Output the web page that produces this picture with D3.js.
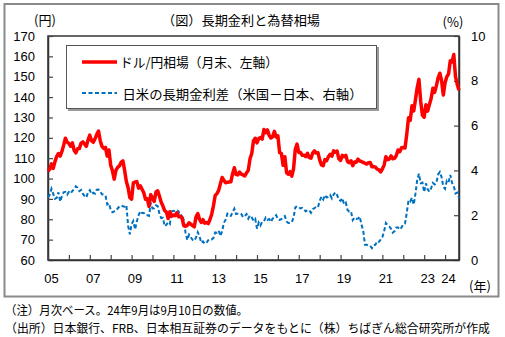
<!DOCTYPE html>
<html><head><meta charset="utf-8">
<script src="https://cdn.jsdelivr.net/npm/d3@7"></script>
<style>
body{margin:0;background:#fff;}
svg{display:block;}
.jp{font-family:"Noto Sans CJK JP","Noto Sans",sans-serif;}
.num{font-family:"Liberation Sans",Arial,sans-serif;}
</style></head>
<body><svg id="c" width="505" height="337"></svg>
<script>
// Monthly, Jan 2005 - Sep 2024
const startYear = 2005;
const usdjpy = [
103.6,104.6,107.2,105.0,108.3,110.9,112.3,111.0,113.3,116.4,119.8,117.9,
117.2,115.9,117.5,113.9,112.6,114.6,114.7,117.4,118.0,117.0,115.8,119.0,
121.3,118.6,117.8,119.5,121.7,123.3,118.6,115.8,114.8,115.3,111.0,114.0,
106.5,103.8,99.7,104.0,105.5,106.2,108.0,108.7,104.0,98.5,95.5,90.6,
89.9,97.9,98.3,98.5,95.3,96.4,94.7,93.0,89.8,90.1,86.3,92.1,
90.3,88.8,93.4,94.0,91.3,88.4,86.5,84.2,83.5,80.4,83.7,81.5,
82.1,81.8,83.2,81.2,81.5,80.6,76.8,76.6,77.0,78.3,77.6,76.9,
76.3,81.2,82.8,80.0,78.4,79.8,78.1,78.4,77.9,79.9,82.5,86.6,
91.7,92.6,94.2,97.5,100.5,99.1,97.9,98.2,98.3,98.4,102.4,105.3,
102.0,101.8,103.2,102.2,101.8,101.3,102.8,104.1,109.7,112.3,118.6,119.8,
117.5,119.6,120.1,119.4,124.1,122.5,123.9,121.2,119.9,120.6,123.2,120.4,
121.0,112.7,112.4,106.5,110.7,102.9,102.1,103.4,101.2,104.8,114.4,116.9,
112.8,112.8,111.4,111.5,110.8,112.4,110.3,110.0,112.5,113.6,112.5,112.7,
109.2,106.7,106.3,109.3,108.8,110.7,111.9,111.0,113.6,112.9,113.5,109.7,
108.9,111.4,110.7,111.4,108.3,107.8,108.7,106.3,108.1,108.0,109.5,108.6,
108.4,107.9,107.5,107.1,107.8,107.9,105.8,105.9,105.6,104.6,104.3,103.3,
104.7,106.6,110.7,109.3,109.6,111.1,109.7,110.0,111.3,114.0,113.2,115.1,
115.2,115.0,121.7,129.8,128.6,135.7,133.2,138.7,144.7,148.7,138.0,131.1,
130.1,136.2,133.1,136.3,139.3,144.3,142.3,145.5,149.4,151.7,148.1,141.0,
147.0,150.0,151.3,157.8,157.3,160.9,150.0,146.2,143.4
];
const spread = [
2.79,2.91,3.18,2.95,2.73,2.78,3.02,2.61,2.85,3.02,3.04,2.92,
3.04,2.97,3.08,3.16,3.29,3.22,3.08,3.13,2.96,2.85,2.79,3.03,
3.12,2.94,3.00,2.96,3.14,3.15,3.05,2.93,2.92,2.88,2.48,2.53,
2.24,2.13,2.17,2.19,2.30,2.39,2.43,2.40,2.38,2.45,1.53,1.15,
1.60,1.74,1.36,1.72,1.99,2.18,2.10,2.10,2.01,2.00,1.97,2.55,
2.30,2.31,2.44,2.40,2.05,1.87,1.88,1.51,1.57,1.69,1.61,2.17,
2.20,2.17,2.22,2.17,1.92,2.03,1.76,1.21,0.89,1.13,1.02,0.90,
0.86,1.01,1.24,1.06,0.77,0.83,0.73,0.76,0.88,0.94,0.92,0.99,
1.23,1.22,1.31,1.07,1.30,1.66,1.80,2.06,1.96,1.97,2.13,2.29,
2.05,2.07,2.09,2.05,1.91,1.97,2.05,1.85,1.99,1.90,1.76,1.84,
1.40,1.67,1.54,1.71,1.73,1.89,1.79,1.83,1.70,1.85,1.90,2.00,
1.82,1.79,1.82,1.91,1.96,1.72,1.65,1.65,1.69,1.89,2.35,2.40,
2.36,2.30,2.33,2.26,2.17,2.23,2.22,2.11,2.27,2.31,2.37,2.35,
2.64,2.82,2.70,2.90,2.79,2.82,2.90,2.75,2.92,3.02,2.90,2.69,
2.64,2.76,2.49,2.56,2.23,2.16,2.17,1.78,1.89,1.83,1.85,1.94,
1.58,1.31,0.68,0.68,0.65,0.63,0.53,0.67,0.68,0.84,0.81,0.91,
1.02,1.28,1.65,1.55,1.50,1.39,1.22,1.29,1.45,1.45,1.36,1.45,
1.61,1.63,2.10,2.66,2.61,2.78,2.47,2.96,3.58,3.85,3.43,3.46,
3.03,3.42,3.16,3.05,3.21,3.44,3.37,3.44,3.82,3.93,3.70,3.27,
3.18,3.54,3.47,3.80,3.44,3.31,2.97,3.01,2.78
];
const xTickYears = d3.range(2005, 2025);
const xLabelYears = [2005,2007,2009,2011,2013,2015,2017,2019,2021,2023,2024];
const leftTicks = d3.range(60, 171, 10);
const rightTicks = [0,2,4,6,8,10];
const title = "（図）長期金利と為替相場";
const legendLabels = ["ドル/円相場（月末、左軸）", "日米の長期金利差（米国－日本、右軸）"];
const notes = ["（注）月次ベース。24年9月は9月10日の数値。",
               "（出所）日本銀行、FRB、日本相互証券のデータをもとに（株）ちばぎん総合研究所が作成"];

const svg = d3.select("#c");
const L = 48, R = 459, T = 36, B = 260;
const t = i => startYear + i/12;
const x = d3.scaleLinear().domain([startYear, startYear + (usdjpy.length-1)/12]).range([L, R]);
const yL = d3.scaleLinear().domain([60,170]).range([B, T]);
const yR = d3.scaleLinear().domain([0,10]).range([B, T]);

// outer frame
svg.append("rect").attr("x",4.5).attr("y",4).attr("width",494).attr("height",292.5)
  .attr("fill","none").attr("stroke","#8a8a8a").attr("stroke-width",2);

// plot border
svg.append("rect").attr("x",L).attr("y",T).attr("width",R-L).attr("height",B-T)
  .attr("fill","none").attr("stroke","#333").attr("stroke-width",1.5);

// left axis
const gL = svg.append("g").attr("transform",`translate(${L},0)`)
  .call(d3.axisLeft(yL).tickValues(leftTicks).tickSizeInner(-5).tickSizeOuter(0).tickPadding(13));
// right axis
const gR = svg.append("g").attr("transform",`translate(${R},0)`)
  .call(d3.axisRight(yR).tickValues(rightTicks).tickSizeInner(-5).tickSizeOuter(0).tickPadding(12));
// bottom axis
const gB = svg.append("g").attr("transform",`translate(0,${B})`)
  .call(d3.axisBottom(x).tickValues(xTickYears).tickSizeInner(-5).tickSizeOuter(0).tickFormat(""));
[gL,gR,gB].forEach(g=>{
  g.select(".domain").attr("stroke","#333").attr("stroke-width",1.5);
  g.selectAll(".tick line").attr("stroke","#444").attr("stroke-width",1.2);
  g.selectAll("text").attr("class","num").attr("font-size",13).attr("fill","#000");
});
gL.selectAll("text").attr("font-family","Liberation Sans, Arial, sans-serif");
gR.selectAll("text").attr("font-family","Liberation Sans, Arial, sans-serif");

// x labels
svg.append("g").selectAll("text").data(xLabelYears).join("text")
  .attr("class","num").attr("x",d=>x(d)+3.5).attr("y",283).attr("text-anchor","middle")
  .attr("font-size",13).attr("fill","#000")
  .text(d=>String(d%100).padStart(2,"0"));

// lines
const lineL = d3.line().x((d,i)=>x(t(i))).y(d=>yL(d));
const lineR = d3.line().x((d,i)=>x(t(i))).y(d=>yR(d));
svg.append("path").attr("d",lineR(spread)).attr("fill","none")
  .attr("stroke","#0070C0").attr("stroke-width",2).attr("stroke-dasharray","4,2.5");
svg.append("path").attr("d",lineL(usdjpy)).attr("fill","none")
  .attr("stroke","#FF0000").attr("stroke-width",3.5).attr("stroke-linejoin","round");

// legend
const lg = svg.append("g");
lg.append("rect").attr("x",68).attr("y",47).attr("width",311).attr("height",64).attr("fill","#9a9a9a");
lg.append("rect").attr("x",66.5).attr("y",45.5).attr("width",310).attr("height",63)
  .attr("fill","#fff").attr("stroke","#555").attr("stroke-width",1);
lg.append("line").attr("x1",82).attr("x2",117).attr("y1",62).attr("y2",62)
  .attr("stroke","#FF0000").attr("stroke-width",3.5);
lg.append("line").attr("x1",82).attr("x2",117).attr("y1",93).attr("y2",93)
  .attr("stroke","#0070C0").attr("stroke-width",2).attr("stroke-dasharray","4,2.5");
lg.append("text").attr("class","jp").attr("x",120).attr("y",67).attr("font-size",13)
  .attr("textLength",158).attr("lengthAdjust","spacingAndGlyphs").text(legendLabels[0]);
lg.append("text").attr("class","jp").attr("x",122.5).attr("y",98.5).attr("font-size",13)
  .attr("textLength",240).attr("lengthAdjust","spacingAndGlyphs").text(legendLabels[1]);

// titles
svg.append("text").attr("class","jp").attr("x",241).attr("y",25).attr("text-anchor","middle")
  .attr("font-size",13).attr("textLength",158).attr("lengthAdjust","spacingAndGlyphs").text(title);
svg.append("text").attr("class","jp").attr("x",45).attr("y",25).attr("text-anchor","middle")
  .attr("font-size",13).text("(円)");
svg.append("text").attr("class","jp").attr("x",453).attr("y",27).attr("text-anchor","middle")
  .attr("font-size",13).text("(%)");
svg.append("text").attr("class","jp").attr("x",480).attr("y",291).attr("text-anchor","middle")
  .attr("font-size",13).text("(年)");

// notes
svg.append("text").attr("class","jp").attr("x",5).attr("y",315).attr("font-size",12)
  .attr("textLength",243).attr("lengthAdjust","spacingAndGlyphs").text(notes[0]);
svg.append("text").attr("class","jp").attr("x",5).attr("y",333).attr("font-size",12)
  .attr("textLength",485).attr("lengthAdjust","spacingAndGlyphs").text(notes[1]);
</script></body></html>
